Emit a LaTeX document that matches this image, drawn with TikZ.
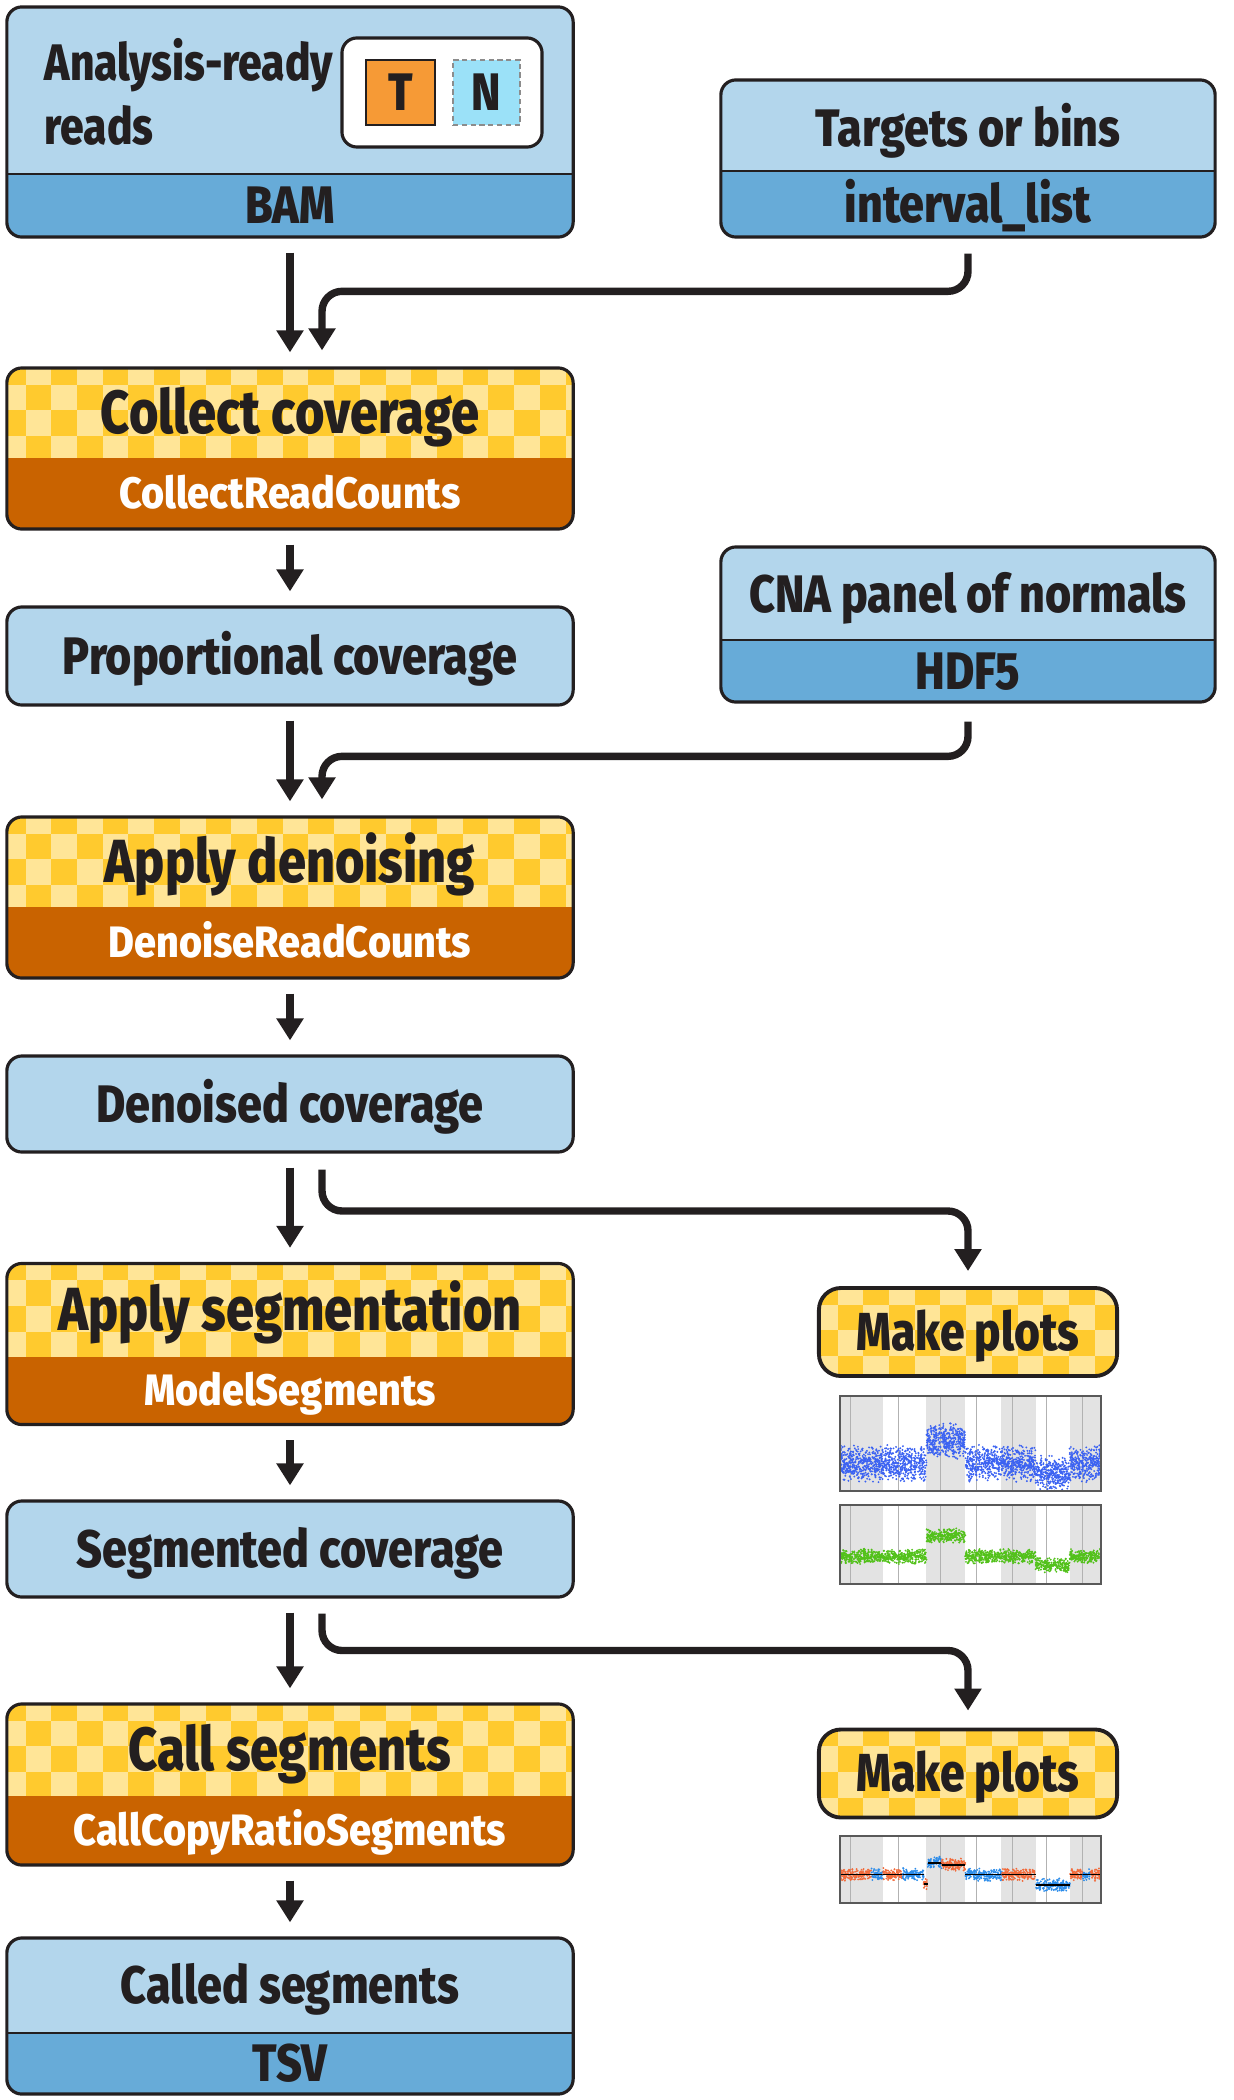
\documentclass[tikz,border=0pt]{standalone}
\usepackage{fontspec}
\newfontfamily\datafont{Fira Sans}[FakeStretch=0.85, BoldFont={* ExtraBold}]
\newfontfamily\headfont{Fira Sans}[FakeStretch=0.83, BoldFont={* ExtraBold}]
\newfontfamily\toolfont{Fira Sans}[FakeStretch=0.9, BoldFont={* ExtraBold}]
\usetikzlibrary{arrows.meta}

\definecolor{ink}{HTML}{231F20}
\definecolor{pale}{HTML}{B3D6EC}
\definecolor{midblue}{HTML}{67ABD8}
\definecolor{rust}{HTML}{C96300}
\definecolor{ckdark}{HTML}{FFCA2E}
\definecolor{cklight}{HTML}{FFE597}
\definecolor{tumour}{HTML}{F69A36}
\definecolor{normal}{HTML}{9BE1F8}
\definecolor{bandgray}{HTML}{E3E3E3}
\definecolor{dotblue}{HTML}{3B62F2}
\definecolor{dotgreen}{HTML}{52C11A}
\definecolor{dotred}{HTML}{F26A3A}
\definecolor{dotsky}{HTML}{2B8CEA}

\begin{document}
\begin{tikzpicture}[x=0.01cm, y=-0.01cm,
    every node/.style={inner sep=0pt},
    outline/.style={draw=ink, line width=0.9pt, rounded corners=0.15cm, minimum width=5.66cm},
    databox/.style={outline, fill=pale},
    splitbox/.style={databox, path picture={
        \fill[midblue, sharp corners] ([yshift=#1]path picture bounding box.south west) rectangle (path picture bounding box.south east);
        \draw[ink, line width=0.6pt, sharp corners] ([yshift=#1]path picture bounding box.south west) -- ([yshift=#1]path picture bounding box.south east);
      }},
    checkered/.style={path picture={
        \fill[ckdark, sharp corners] (path picture bounding box.south west) rectangle (path picture bounding box.north east);
        \foreach \i in {0,...,23}{\foreach \j in {0,...,4}{
            \pgfmathtruncatemacro\ckp{mod(\i+\j,2)}
            \ifnum\ckp=1
              \fill[cklight, sharp corners] ([xshift=\i*0.257cm-0.07cm, yshift=-\j*0.257cm+0.09cm]path picture bounding box.north west) rectangle ++(0.257cm,-0.257cm);
            \fi}}
        \fill[rust, sharp corners] ([yshift=#1]path picture bounding box.south west) rectangle (path picture bounding box.south east);
      }},
    checkered/.default=0cm,
    toolbox/.style={outline, checkered=#1, minimum height=1.61cm},
    plotbtn/.style={outline, line width=1.1pt, rounded corners=0.22cm, minimum width=2.98cm, minimum height=0.88cm, checkered},
    dfont/.style={font=\headfont\bfseries\fontsize{14.6}{18.2}\selectfont, text=ink},
    dtitle/.style={font=\datafont\bfseries\fontsize{15}{18.2}\selectfont, text=ink, text height=10.3pt, text depth=0pt},
    ptitle/.style={font=\headfont\bfseries\fontsize{17.3}{20}\selectfont, text=ink, text height=11.9pt, text depth=0pt},
    btitle/.style={font=\headfont\bfseries\fontsize{15.2}{18}\selectfont, text=ink, text height=10.5pt, text depth=0pt},
    tool/.style={font=\toolfont\bfseries\fontsize{12.5}{15}\selectfont, text=white, text height=8.6pt, text depth=0pt},
    flow/.style={draw=ink, line width=2.1pt, rounded corners=0.2cm, -{Triangle[width=0.26cm, length=0.22cm]}},
    link/.style={flow, shorten <=0.14cm, shorten >=0.14cm},
    frame/.style={draw=black!65, line width=0.5pt},
    chrline/.style={draw=black!30, line width=0.3pt}]

  \useasboundingbox (0,0) rectangle (1234,2100);

  % Inputs
  \node[splitbox=0.63cm, minimum height=2.30cm] (reads) at (290,122) {};
  \node[dfont, anchor=west, align=left] (reads-t) at (44,92) {Analysis-ready\\reads};
  \node[draw=ink, line width=0.9pt, fill=white, rounded corners=0.15cm, minimum width=2cm, minimum height=1.09cm] (tn) at (442,92.5) {};
  \node[dtitle, draw=ink, line width=0.5pt, fill=tumour, minimum width=0.69cm, minimum height=0.65cm] (tsq) at (400.5,92.5) {T};
  \node[dtitle, draw=black!45, dash pattern=on 1.5pt off 1pt, line width=0.5pt, fill=normal, minimum width=0.67cm, minimum height=0.65cm] (nsq) at (486.5,92.5) {N};
  \node[dtitle] (reads-f) at (290,205.5) {BAM};

  \node[splitbox=0.66cm, minimum width=4.94cm, minimum height=1.57cm] (targets) at (968,158.5) {};
  \node[dtitle] (targets-t) at (968,128) {Targets or bins};
  \node[dtitle] (targets-f) at (968,204) {interval\_list};

  % Coverage
  \node[toolbox=0.71cm] (collect) at (290,448.5) {};
  \node[ptitle] (collect-t) at (290,413) {Collect coverage};
  \node[tool] (collect-s) at (290,493.5) {CollectReadCounts};

  \node[databox, dtitle, minimum height=0.98cm] (propcov) at (290,656) {Proportional coverage};

  \node[splitbox=0.62cm, minimum width=4.94cm, minimum height=1.55cm] (pon) at (968,624.5) {};
  \node[dtitle] (pon-t) at (968,594) {CNA panel of normals};
  \node[dtitle] (pon-f) at (968,671) {HDF5};

  % Denoising
  \node[toolbox=0.71cm] (denoise) at (290,897.5) {};
  \node[ptitle] (denoise-t) at (290,862) {Apply denoising};
  \node[tool] (denoise-s) at (290,942.5) {DenoiseReadCounts};

  \node[databox, dtitle, minimum height=0.96cm] (dencov) at (290,1104) {Denoised coverage};

  % Segmentation
  \node[toolbox=0.68cm] (segment) at (290,1344) {};
  \node[ptitle] (segment-t) at (290,1310) {Apply segmentation};
  \node[tool] (segment-s) at (290,1390) {ModelSegments};

  \node[plotbtn, btitle] (plots1) at (968,1332) {Make plots};

  \node[databox, dtitle, minimum height=0.96cm] (segcov) at (290,1549) {Segmented coverage};

  % Calling
  \node[toolbox=0.69cm] (callseg) at (290,1784.5) {};
  \node[ptitle] (callseg-t) at (290,1750) {Call segments};
  \node[tool] (callseg-s) at (290,1830.5) {CallCopyRatioSegments};

  \node[plotbtn, btitle] (plots2) at (968,1773.5) {Make plots};

  \node[splitbox=0.61cm, minimum height=1.56cm] (called) at (290,2016) {};
  \node[dtitle] (called-t) at (290,1985.5) {Called segments};
  \node[dtitle] (called-f) at (290,2063.5) {TSV};

  % Connectors
  \foreach \a/\b in {reads/collect, collect/propcov, propcov/denoise, denoise/dencov,
                     dencov/segment, segment/segcov, segcov/callseg, callseg/called}
    \draw[link] (\a) -- (\b);
  \draw[flow] ([yshift=-0.15cm]targets.south) |- ([xshift=0.32cm, yshift=0.75cm]collect.north) -- ([xshift=0.32cm, yshift=0.16cm]collect.north);
  \draw[flow] ([yshift=-0.18cm]pon.south) |- ([xshift=0.32cm, yshift=0.59cm]denoise.north) -- ([xshift=0.32cm, yshift=0.16cm]denoise.north);
  \draw[flow] ([xshift=0.32cm, yshift=-0.16cm]dencov.south) |- ([yshift=0.75cm]plots1.north) -- ([yshift=0.15cm]plots1.north);
  \draw[flow] ([xshift=0.32cm, yshift=-0.15cm]segcov.south) |- ([yshift=0.77cm]plots2.north) -- ([yshift=0.17cm]plots2.north);

  % Copy ratio plot
  \begin{scope}[shift={(840,1396)}, x=2.61cm, y=-0.95cm]
    \foreach \a/\b in {0/0.166, 0.331/0.48, 0.618/0.749, 0.879/1}
      \fill[bandgray] (\a,0) rectangle (\b,1);
    \foreach \a in {0.041,0.224,0.384,0.522,0.662,0.79,0.93}
      \draw[chrline] (\a,0) -- (\a,1);
    \begin{scope}
      \clip (0,0) rectangle (1,1);
      \pgfmathsetseed{3}
      \foreach \a/\b/\lv in {0/0.331/0.71, 0.331/0.48/0.47, 0.48/0.749/0.71, 0.749/0.879/0.82, 0.879/1/0.71}{
        \pgfmathtruncatemacro\npts{2600*(\b-\a)}
        \foreach \k in {1,...,\npts}{
          \pgfmathsetmacro\px{\a+(\b-\a)*rnd}
          \pgfmathsetmacro\py{\lv+0.2*(rnd+rnd-1)}
          \fill[dotblue] (\px,\py) circle[radius=0.3pt];
        }
      }
    \end{scope}
    \draw[frame] (0,0) rectangle (1,1);
  \end{scope}

  % Allele fraction plot
  \begin{scope}[shift={(840,1505)}, x=2.61cm, y=-0.79cm]
    \foreach \a/\b in {0/0.166, 0.331/0.48, 0.618/0.749, 0.879/1}
      \fill[bandgray] (\a,0) rectangle (\b,1);
    \foreach \a in {0.041,0.224,0.384,0.522,0.662,0.79,0.93}
      \draw[chrline] (\a,0) -- (\a,1);
    \begin{scope}
      \clip (0,0) rectangle (1,1);
      \pgfmathsetseed{5}
      \foreach \a/\b/\lv in {0/0.331/0.65, 0.331/0.48/0.39, 0.48/0.749/0.65, 0.749/0.879/0.76, 0.879/1/0.65}{
        \pgfmathtruncatemacro\npts{1800*(\b-\a)}
        \foreach \k in {1,...,\npts}{
          \pgfmathsetmacro\px{\a+(\b-\a)*rnd}
          \pgfmathsetmacro\py{\lv+0.1*(rnd+rnd-1)}
          \fill[dotgreen] (\px,\py) circle[radius=0.3pt];
        }
      }
    \end{scope}
    \draw[frame] (0,0) rectangle (1,1);
  \end{scope}

  % Called segments plot
  \begin{scope}[shift={(840,1836)}, x=2.61cm, y=-0.67cm]
    \foreach \a/\b in {0/0.166, 0.331/0.48, 0.618/0.749, 0.879/1}
      \fill[bandgray] (\a,0) rectangle (\b,1);
    \foreach \a in {0.041,0.224,0.384,0.522,0.662,0.79,0.93}
      \draw[chrline] (\a,0) -- (\a,1);
    \begin{scope}
      \clip (0,0) rectangle (1,1);
      \pgfmathsetseed{9}
      \foreach \a/\b/\lv/\c in {0/0.12/0.575/dotred, 0.12/0.165/0.575/dotsky, 0.165/0.24/0.575/dotred,
                                 0.24/0.32/0.575/dotsky, 0.32/0.335/0.72/dotred, 0.335/0.39/0.40/dotsky,
                                 0.39/0.48/0.43/dotred, 0.48/0.62/0.575/dotsky, 0.62/0.75/0.575/dotred,
                                 0.75/0.88/0.73/dotsky, 0.88/0.93/0.575/dotred, 0.93/0.96/0.575/dotsky,
                                 0.96/1/0.575/dotred}{
        \pgfmathtruncatemacro\npts{1400*(\b-\a)}
        \foreach \k in {1,...,\npts}{
          \pgfmathsetmacro\px{\a+(\b-\a)*rnd}
          \pgfmathsetmacro\py{\lv+0.1*(rnd+rnd-1)}
          \fill[\c] (\px,\py) circle[radius=0.3pt];
        }
        \draw[black, line width=0.5pt] (\a,\lv) -- (\b,\lv);
      }
    \end{scope}
    \draw[frame] (0,0) rectangle (1,1);
  \end{scope}
\end{tikzpicture}
\end{document}
